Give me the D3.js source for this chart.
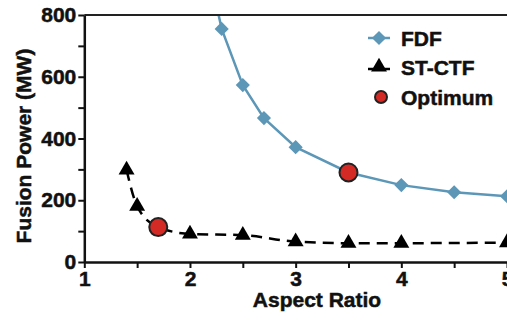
<!DOCTYPE html>
<html><head><meta charset="utf-8">
<script src="https://cdn.jsdelivr.net/npm/d3@7"></script>
<style>
html,body{margin:0;padding:0;background:#fff;}
svg{display:block;font-family:"Liberation Sans",Arial,sans-serif;font-weight:bold;}
text{stroke:#111;stroke-width:0.5px;}
</style></head><body>
<svg id="c" width="507" height="320"></svg>
<script>
const fdfX = [2.2, 2.3, 2.5, 2.7, 3.0, 3.5, 4.0, 4.5, 5.0];
const fdfY = [910, 755, 573, 466, 372, 290, 249, 226, 213];
const fdfMarkerX = [2.3, 2.5, 2.7, 3.0, 4.0, 4.5, 5.0];
const fdfMarkerY = [755, 573, 466, 372, 249, 226, 213];
const ctfX = [1.4, 1.5, 1.7, 2.0, 2.5, 3.0, 3.5, 4.0, 5.0];
const ctfY = [298, 181, 113, 91, 87, 66, 61, 61, 63];
const ctfMarkerX = [1.4, 1.5, 2.0, 2.5, 3.0, 3.5, 4.0, 5.0];
const ctfMarkerY = [298, 181, 91, 87, 66, 61, 61, 63];
const optX = [1.7, 3.5];
const optY = [113, 290];
const xTicks = [1, 2, 3, 4, 5];
const xMinor = [1.5, 2.5, 3.5, 4.5];
const yTicks = [0, 200, 400, 600, 800];
const yMinor = [100, 300, 500, 700];
const legendLabels = ["FDF", "ST-CTF", "Optimum"];

const svg = d3.select("#c");
const L = 84.3, R = 507, T = 15, B = 262;
const x = d3.scaleLinear().domain([1, 5]).range([L, R]);
const y = d3.scaleLinear().domain([0, 800]).range([B, T]);
const blue = "#5d97b8", red = "#d42a25";

svg.append("defs").append("clipPath").attr("id","clip")
  .append("rect").attr("x", L).attr("y", T).attr("width", R - L + 10).attr("height", B - T);

const plot = svg.append("g").attr("clip-path","url(#clip)");

const lineLin = d3.line().x(d => x(d[0])).y(d => y(d[1]));
const lineSm = d3.line().x(d => x(d[0])).y(d => y(d[1])).curve(d3.curveMonotoneX);

plot.append("path").datum(fdfX.map((v,i)=>[v,fdfY[i]]))
  .attr("d", lineLin).attr("fill","none").attr("stroke", blue).attr("stroke-width", 2.5);
plot.append("path").datum(ctfX.map((v,i)=>[v,ctfY[i]]))
  .attr("d", lineSm).attr("fill","none").attr("stroke", "#000").attr("stroke-width", 2.5)
  .attr("stroke-dasharray","11,7");

const diamond = d3.symbol().type(d3.symbolSquare).size(100);
plot.selectAll(".dia").data(fdfMarkerX.map((v,i)=>[v,fdfMarkerY[i]])).join("path")
  .attr("transform", d => `translate(${x(d[0])},${y(d[1])}) rotate(45)`)
  .attr("d", diamond).attr("fill", blue);

const tri = d3.symbol().type(d3.symbolTriangle).size(110);
plot.selectAll(".tri").data(ctfMarkerX.map((v,i)=>[v,ctfMarkerY[i]])).join("path")
  .attr("transform", d => `translate(${x(d[0])},${y(d[1])})`)
  .attr("d", tri).attr("fill", "#000");

plot.selectAll(".opt").data(optX.map((v,i)=>[v,optY[i]])).join("circle")
  .attr("cx", d => x(d[0])).attr("cy", d => y(d[1])).attr("r", 9)
  .attr("fill", red).attr("stroke", "#222").attr("stroke-width", 2);

// top border
svg.append("line").attr("x1", L).attr("x2", R).attr("y1", T).attr("y2", T)
  .attr("stroke", "#222").attr("stroke-width", 2);

// axes
svg.append("g").attr("transform", `translate(0,${B})`)
  .call(d3.axisBottom(x).tickValues(xTicks).tickFormat(d3.format("d")).tickSizeInner(6).tickSizeOuter(0).tickPadding(3));
svg.append("g").attr("transform", `translate(0,${B})`)
  .call(d3.axisBottom(x).tickValues(xMinor).tickFormat("").tickSizeInner(6).tickSizeOuter(0))
  .select(".domain").remove();
svg.append("g").attr("transform", `translate(${L},0)`)
  .call(d3.axisLeft(y).tickValues(yTicks).tickFormat(d3.format("d")).tickSizeInner(6).tickSizeOuter(0).tickPadding(2));
svg.append("g").attr("transform", `translate(${L},0)`)
  .call(d3.axisLeft(y).tickValues(yMinor).tickFormat("").tickSizeInner(6).tickSizeOuter(0))
  .select(".domain").remove();

svg.selectAll(".domain").attr("stroke","#111").attr("stroke-width", 2.5);
svg.selectAll(".tick line").attr("stroke","#111").attr("stroke-width", 2);
svg.selectAll(".tick text").attr("font-size", 21).attr("font-family","Liberation Sans, Arial, sans-serif")
  .attr("font-weight","bold").attr("fill","#111");

svg.append("text").attr("x", 317).attr("y", 307).attr("text-anchor","middle")
  .attr("font-size", 21).attr("fill","#111").text("Aspect Ratio");
svg.append("text").attr("transform","translate(31,146) rotate(-90)").attr("text-anchor","middle")
  .attr("font-size", 21).attr("fill","#111").text("Fusion Power (MW)");

// legend
const lg = svg.append("g");
const ly = [38, 67, 97];
lg.append("line").attr("x1",368).attr("x2",390).attr("y1",ly[0]).attr("y2",ly[0]).attr("stroke",blue).attr("stroke-width",2.5);
lg.append("path").attr("transform",`translate(379,${ly[0]}) rotate(45)`).attr("d", diamond).attr("fill", blue);
lg.append("line").attr("x1",368).attr("x2",390).attr("y1",ly[1]+2).attr("y2",ly[1]+2).attr("stroke","#000").attr("stroke-width",2.5);
lg.append("path").attr("transform",`translate(379,${ly[1]})`).attr("d", tri).attr("fill", "#000");
lg.append("circle").attr("cx",381).attr("cy",ly[2]).attr("r",6).attr("fill",red).attr("stroke","#222").attr("stroke-width",2);
lg.selectAll(".lt").data(legendLabels).join("text")
  .attr("x", 401).attr("y", (d,i) => ly[i] + 7.5).attr("font-size", 21).attr("fill","#111")
  .text(d => d);
</script>
</body></html>
